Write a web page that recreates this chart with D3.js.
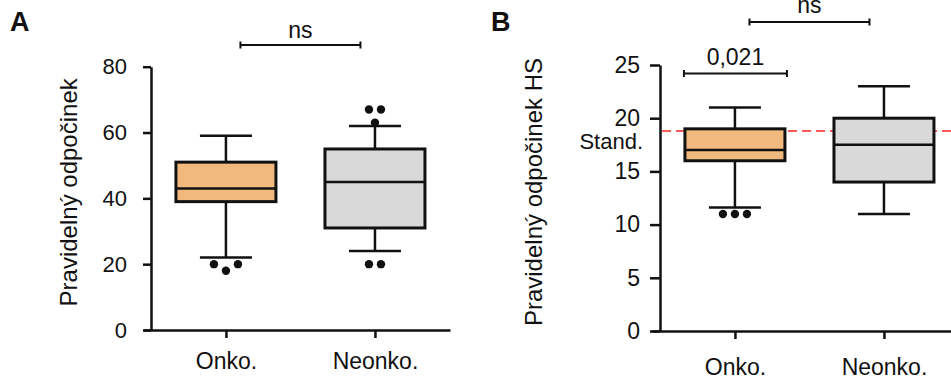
<!DOCTYPE html>
<html>
<head>
<meta charset="utf-8">
<script src="https://cdn.jsdelivr.net/npm/d3@7"></script>
<style>
  body { margin: 0; background: #fff; }
  text { font-family: "Liberation Sans", Arial, sans-serif; fill: #111; }
</style>
</head>
<body>
<svg id="chart" width="951" height="379"></svg>
<script>
// Categories
const groups = ["Onko.", "Neonko."];
const fills = ["#f2b97f", "#d9d9d9"];

// Panel A - Pravidelný odpočinek
const aTicks = [0, 20, 40, 60, 80];
const aLow = [22, 24], aQ1 = [39, 31], aMed = [43, 45], aQ3 = [51, 55], aHigh = [59, 62];
const aOutliers = [[20, 18, 20], [20, 20, 63, 67, 67]];

// Panel B - Pravidelný odpočinek HS
const bTicks = [0, 5, 10, 15, 20, 25];
const bLow = [11.6, 11], bQ1 = [16, 14], bMed = [17, 17.5], bQ3 = [19, 20], bHigh = [21, 23];
const bOutliers = [[11, 11, 11], []];
const bStand = 18.8;

const svg = d3.select("#chart");
const ink = "#111";

// spread outliers that sit on top of each other side by side
function spread(vals, y) {
    const res = [];
    let i = 0;
    while (i < vals.length) {
        let j = i + 1;
        while (j < vals.length && Math.abs(y(vals[j]) - y(vals[j - 1])) < 10) j++;
        const n = j - i;
        for (let k = i; k < j; k++) res.push({v: vals[k], dx: (k - i - (n - 1) / 2) * 12});
        i = j;
    }
    return res;
}

function drawPanel(p) {
    const g = svg.append("g");

    const y = d3.scaleLinear().domain([0, d3.max(p.ticks)]).range([p.bottom, p.top]);
    const x = d3.scalePoint().domain(groups).range(p.xRange).padding(0.53).align(0.525);

    // axes
    const yAxis = g.append("g")
        .attr("transform", "translate(" + p.axisX + ",0)")
        .call(d3.axisLeft(y).tickValues(p.ticks).tickSize(p.tickLen).tickSizeOuter(0).tickPadding(p.tickPad));
    const xAxis = g.append("g")
        .attr("transform", "translate(0," + p.bottom + ")")
        .call(d3.axisBottom(x).tickSize(8).tickSizeOuter(0).tickPadding(p.catPad));
    [yAxis, xAxis].forEach(a => {
        a.selectAll("path, line").attr("stroke", ink).attr("stroke-width", 2.5);
        a.selectAll("text").attr("font-size", p.tickFont).attr("fill", ink);
    });
    xAxis.selectAll("text").attr("font-size", 23);

    // reference line
    if (p.stand != null) {
        g.append("line")
            .attr("x1", p.axisX + 2).attr("x2", 951)
            .attr("y1", y(p.stand)).attr("y2", y(p.stand))
            .attr("stroke", "#ff5a5a").attr("stroke-width", 2)
            .attr("stroke-dasharray", "9,5");
        g.append("text")
            .attr("x", p.axisX - 17).attr("y", y(p.stand) + 18)
            .attr("text-anchor", "end").attr("font-size", 22)
            .text("Stand.");
    }

    const boxW = 100, capW = 52;
    groups.forEach((grp, i) => {
        const cx = x(grp);
        // whiskers
        g.append("line").attr("x1", cx).attr("x2", cx).attr("y1", y(p.high[i])).attr("y2", y(p.low[i]))
            .attr("stroke", ink).attr("stroke-width", 2.5);
        [p.low[i], p.high[i]].forEach(v => {
            g.append("line").attr("x1", cx - capW / 2).attr("x2", cx + capW / 2)
                .attr("y1", y(v)).attr("y2", y(v))
                .attr("stroke", ink).attr("stroke-width", 2.5);
        });
        // box
        g.append("rect")
            .attr("x", cx - boxW / 2).attr("width", boxW)
            .attr("y", y(p.q3[i])).attr("height", y(p.q1[i]) - y(p.q3[i]))
            .attr("fill", fills[i]).attr("stroke", ink).attr("stroke-width", 3);
        g.append("line").attr("x1", cx - boxW / 2).attr("x2", cx + boxW / 2)
            .attr("y1", y(p.med[i])).attr("y2", y(p.med[i]))
            .attr("stroke", ink).attr("stroke-width", 2.5);
        // outliers
        g.selectAll(null).data(spread(p.outliers[i], y)).enter().append("circle")
            .attr("cx", d => cx + d.dx).attr("cy", d => y(d.v))
            .attr("r", 4.2).attr("fill", ink);
    });

    // significance brackets
    p.brackets.forEach(b => {
        const x1 = b.x1(x), x2 = b.x2(x);
        g.append("path")
            .attr("d", "M" + x1 + "," + (b.y - 3.5) + "V" + (b.y + 3.5) + "M" + x1 + "," + b.y + "H" + x2 +
                "M" + x2 + "," + (b.y - 3.5) + "V" + (b.y + 3.5))
            .attr("fill", "none").attr("stroke", ink).attr("stroke-width", 2);
        g.append("text")
            .attr("x", (x1 + x2) / 2).attr("y", b.ty)
            .attr("text-anchor", "middle").attr("font-size", 23)
            .text(b.label);
    });

    // y label
    g.append("text")
        .attr("transform", "translate(" + p.labelX + "," + ((p.top + p.bottom) / 2 - 6) + ") rotate(-90)")
        .attr("text-anchor", "middle").attr("font-size", 24)
        .text(p.yLabel);

    // panel letter
    g.append("text")
        .attr("x", p.letterX).attr("y", 31)
        .attr("font-size", 27).attr("font-weight", "bold")
        .text(p.letter);
}

const mid = x => (x(groups[0]) + x(groups[1])) / 2;

drawPanel({
    letter: "A", letterX: 10,
    ticks: aTicks, low: aLow, q1: aQ1, med: aMed, q3: aQ3, high: aHigh, outliers: aOutliers,
    axisX: 151, top: 66.7, bottom: 330, xRange: [143, 450],
    tickLen: 8, tickPad: 16, catPad: 15, tickFont: 22,
    yLabel: "Pravidelný odpočinek", labelX: 77,
    brackets: [{label: "ns", y: 45, ty: 38, x1: x => mid(x) - 60, x2: x => mid(x) + 60}]
});

drawPanel({
    letter: "B", letterX: 491,
    ticks: bTicks, low: bLow, q1: bQ1, med: bMed, q3: bQ3, high: bHigh, outliers: bOutliers,
    stand: bStand,
    axisX: 660, top: 65, bottom: 331, xRange: [652, 959],
    tickLen: 10, tickPad: 10, catPad: 20, tickFont: 23,
    yLabel: "Pravidelný odpočinek HS", labelX: 542,
    brackets: [
        {label: "0,021", y: 73.5, ty: 65, x1: x => x(groups[0]) - 51, x2: x => x(groups[0]) + 52},
        {label: "ns", y: 22, ty: 13, x1: x => mid(x) - 60, x2: x => mid(x) + 60}
    ]
});
</script>
</body>
</html>
